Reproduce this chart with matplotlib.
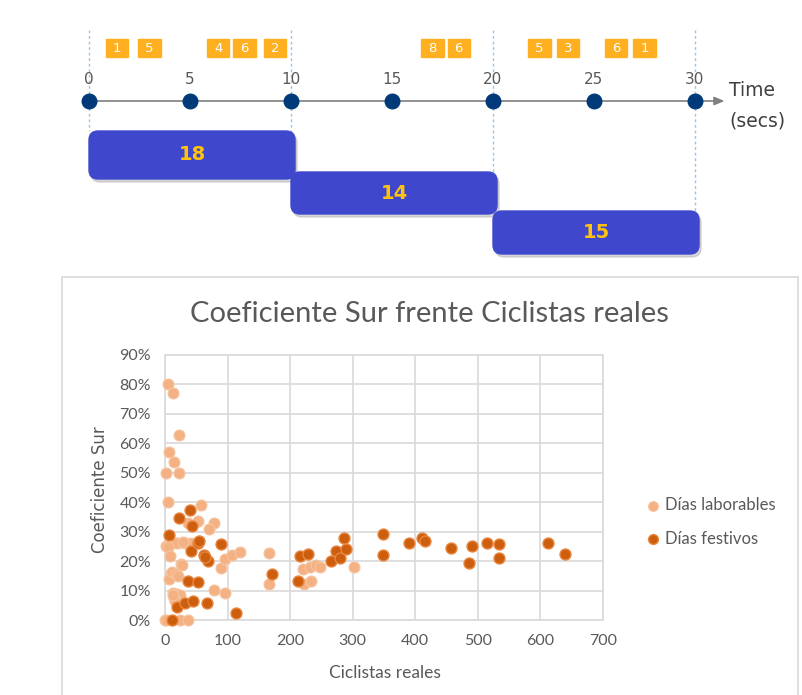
import matplotlib.pyplot as plt
from matplotlib.patches import FancyBboxPatch, Rectangle
from matplotlib.ticker import PercentFormatter

# --- timeline data ---
tick_secs = [0, 5, 10, 15, 20, 25, 30]
event_secs = [1.4, 3.0, 6.4, 7.7, 9.2, 17.0, 18.3, 22.3, 23.7, 26.1, 27.5]
event_labels = ["1", "5", "4", "6", "2", "8", "6", "5", "3", "6", "1"]
win_start = [0, 10, 20]
win_end = [10, 20, 30]
win_count = [18, 14, 15]

# --- scatter data ---
lab_x = [4, 12, 23, 6, 14, 2, 23, 5, 58, 52, 79, 36, 71, 21, 32, 41, 54, 2, 18, 29,
         4, 8, 26, 9, 7, 11, 18, 21, 12, 19, 24, 15, 16, 0, 24, 36, 2, 89, 96, 107,
         120, 79, 96, 167, 167, 220, 232, 241, 248, 222, 233, 302, 12, 27]
lab_y = [80, 77, 62.7, 57, 53.5, 50, 50, 40, 39, 33.5, 33, 32.8, 30.8, 26, 26, 26, 27, 25, 26, 26.6,
         24.7, 21.7, 18.9, 16, 14, 16.4, 15.5, 15, 9.3, 8.8, 8.4, 7.6, 6.6, 0, 0, 0, 0, 17.7, 20.6, 22,
         23.2, 10.2, 9.1, 22.6, 12.2, 17.3, 18, 18.8, 18, 12.2, 13.1, 18, 8.6, 18.7]
fest_x = [6, 23, 40, 43, 41, 52, 62, 68, 89, 36, 53, 19.5, 32, 44, 67, 11, 114, 171, 213, 215,
          229, 265, 274, 279, 286, 290, 349, 349, 390, 410, 415, 457, 491, 486, 515, 534, 534, 612, 640,
          54, 64]
fest_y = [28.7, 34.7, 37.5, 31.8, 23.5, 26.3, 22, 20, 25.7, 13.1, 12.8, 4.4, 5.7, 6.4, 5.7, 0, 2.3, 15.6, 13.3, 21.8,
          22.4, 19.9, 23.4, 20.9, 28, 24, 29.2, 22, 26.2, 27.8, 26.7, 24.6, 25, 19.3, 26.2, 25.8, 20.9, 26.2, 22.3,
          26.8, 21.5]

W, H = 802, 695
fig = plt.figure(figsize=(W / 100, H / 100), dpi=100)

# ---------------- timeline (top) ----------------
px_per_sec = 20.2
ax_t = fig.add_axes([0, 1 - 265 / H, 1, 265 / H])
ax_t.set_xlim(-89 / px_per_sec, (W - 89) / px_per_sec)
ax_t.set_ylim(265, 0)
ax_t.axis("off")

box_top = [131, 172, 211]
box_h = [48, 42, 43]
for s, top in zip(win_start, box_top):
    ax_t.plot([s, s], [30, top], color="#9DC3E6", lw=1, ls=(0, (2, 2)), zorder=1)
ax_t.plot([win_end[-1]] * 2, [30, 252], color="#9DC3E6", lw=1, ls=(0, (2, 2)), zorder=1)

ax_t.annotate("", xy=(31.6, 101), xytext=(0, 101),
              arrowprops=dict(arrowstyle="-|>,head_length=0.6,head_width=0.25",
                              color="#7F7F7F", lw=1.2), zorder=2)
ax_t.scatter(tick_secs, [101] * len(tick_secs), s=110, color="#003A78", zorder=3)
for t in tick_secs:
    ax_t.text(t, 79, str(t), ha="center", va="center", fontsize=11, color="#595959")
ax_t.text(31.7, 91, "Time", ha="left", va="center", fontsize=13.5, color="#404040")
ax_t.text(31.7, 121, "(secs)", ha="left", va="center", fontsize=13.5, color="#404040")

for t, lab in zip(event_secs, event_labels):
    ax_t.add_patch(Rectangle((t - 0.55, 39), 1.1, 18, color="#FFB020", zorder=3))
    ax_t.text(t, 48.5, lab, ha="center", va="center", fontsize=9.5, color="white", zorder=4)

for s, e, n, top, h in zip(win_start, win_end, win_count, box_top, box_h):
    shadow = FancyBboxPatch((s + 0.1, top + 3), e - s + 0.2, h,
                            boxstyle="round,pad=0,rounding_size=0.45", mutation_aspect=20,
                            color="#B0B0B0", alpha=0.5, zorder=3)
    ax_t.add_patch(shadow)
    box = FancyBboxPatch((s, top), e - s + 0.2, h,
                         boxstyle="round,pad=0,rounding_size=0.45", mutation_aspect=20,
                         color="#3F48CC", zorder=4)
    ax_t.add_patch(box)
    ax_t.text(s + (e - s + 0.2) / 2, top + h / 2, str(n), ha="center", va="center",
              fontsize=14, fontweight="bold", color="#FFC20E", zorder=5)

# ---------------- scatter chart (bottom) ----------------
fig.patches.append(Rectangle((62 / W, -0.01), 736 / W, (H - 277) / H + 0.01,
                             transform=fig.transFigure, fill=False,
                             edgecolor="#D9D9D9", lw=1.2))

ax = fig.add_axes([165 / W, 1 - 620 / H, 438 / W, 265 / H])
font_c = ["Lato", "DejaVu Sans"]
ax.scatter(lab_x, lab_y, s=62, color="#F4B183", edgecolor="#F7C4A0", lw=0.8,
           label="Días laborables", zorder=3, clip_on=False)
ax.scatter(fest_x, fest_y, s=62, color="#CC5E0E", edgecolor="#E8853F", lw=1,
           label="Días festivos", zorder=4, clip_on=False)
ax.set_xlim(0, 700)
ax.set_ylim(0, 90)
ax.set_xticks(range(0, 701, 100))
ax.set_yticks(range(0, 91, 10))
ax.yaxis.set_major_formatter(PercentFormatter(decimals=0))
ax.grid(True, color="#D9D9D9", lw=1.2)
ax.set_axisbelow(True)
for sp in ax.spines.values():
    sp.set_color("#D9D9D9")
    sp.set_linewidth(1.2)
ax.tick_params(length=0, pad=10, labelsize=11.5, labelcolor="#595959")
for lab in ax.get_xticklabels() + ax.get_yticklabels():
    lab.set_family(font_c)

fig.text(429 / W, 1 - 314 / H, "Coeficiente Sur frente Ciclistas reales", ha="center",
         va="center", fontsize=21, color="#595959", family=font_c)
fig.text(385 / W, 1 - 673 / H, "Ciclistas reales", ha="center", va="center",
         fontsize=12.5, color="#595959", family=font_c)
fig.text(100 / W, 1 - 490 / H, "Coeficiente Sur", ha="center", va="center",
         rotation=90, fontsize=12, color="#595959")

leg = ax.legend(loc="center left", bbox_to_anchor=(1.077, 0.37), frameon=False,
                borderpad=0, handlelength=1.0, handletextpad=0.2, labelspacing=1.05,
                markerscale=0.9, prop={"family": font_c, "size": 12})
for t in leg.get_texts():
    t.set_color("#595959")

fig.savefig("out.png", dpi=100)
